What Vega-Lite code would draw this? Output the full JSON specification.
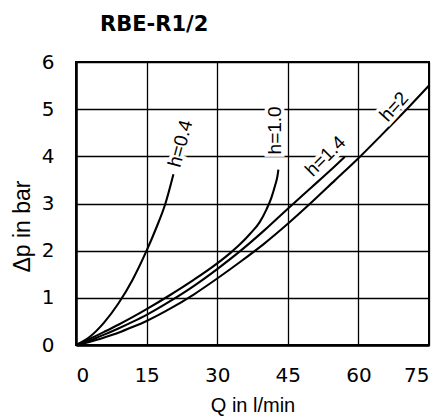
{
  "$schema": "https://vega.github.io/schema/vega-lite/v6.json",
  "width": 353,
  "height": 283,
  "autosize": {"type": "none"},
  "padding": {"left": 76, "top": 62, "right": 16, "bottom": 74},
  "background": "white",
  "title": {"text": "RBE-R1/2", "anchor": "start", "frame": "group", "dx": 24, "font": "DejaVu Sans", "fontSize": 21, "fontWeight": "bold", "color": "black", "baseline": "alphabetic", "offset": 0},
  "config": {
    "view": {"stroke": "black", "strokeWidth": 2},
    "axis": {
      "grid": true, "gridColor": "black", "gridWidth": 1.3, "gridOpacity": 1,
      "domain": true, "domainColor": "black", "domainWidth": 2.5,
      "ticks": false,
      "labelFont": "DejaVu Sans", "labelFontSize": 20, "labelColor": "black",
      "titleFont": "Liberation Sans", "titleFontWeight": "normal", "titleColor": "black"
    },
    "text": {"font": "Liberation Sans", "fontSize": 19, "align": "center", "baseline": "middle"}
  },
  "datasets": {
    "curves": [
      {"h": "0.4", "Q": 0, "p": 0}, {"h": "0.4", "Q": 3, "p": 0.18}, {"h": "0.4", "Q": 6, "p": 0.48}, {"h": "0.4", "Q": 9, "p": 0.88}, {"h": "0.4", "Q": 12, "p": 1.38}, {"h": "0.4", "Q": 15, "p": 2.0}, {"h": "0.4", "Q": 17, "p": 2.47}, {"h": "0.4", "Q": 19, "p": 3.0}, {"h": "0.4", "Q": 20.7, "p": 3.62},
      {"h": "1.0", "Q": 0, "p": 0}, {"h": "1.0", "Q": 3, "p": 0.135}, {"h": "1.0", "Q": 6, "p": 0.28}, {"h": "1.0", "Q": 9, "p": 0.43}, {"h": "1.0", "Q": 12, "p": 0.59}, {"h": "1.0", "Q": 15, "p": 0.76}, {"h": "1.0", "Q": 20, "p": 1.06}, {"h": "1.0", "Q": 25, "p": 1.38}, {"h": "1.0", "Q": 30, "p": 1.73}, {"h": "1.0", "Q": 33, "p": 1.97}, {"h": "1.0", "Q": 35, "p": 2.15}, {"h": "1.0", "Q": 37, "p": 2.36}, {"h": "1.0", "Q": 39, "p": 2.6}, {"h": "1.0", "Q": 40.5, "p": 2.88}, {"h": "1.0", "Q": 41.5, "p": 3.12}, {"h": "1.0", "Q": 42.3, "p": 3.38}, {"h": "1.0", "Q": 42.8, "p": 3.58}, {"h": "1.0", "Q": 43.0, "p": 3.72},
      {"h": "1.4", "Q": 0, "p": 0}, {"h": "1.4", "Q": 3, "p": 0.1}, {"h": "1.4", "Q": 6, "p": 0.22}, {"h": "1.4", "Q": 9, "p": 0.35}, {"h": "1.4", "Q": 12, "p": 0.49}, {"h": "1.4", "Q": 15, "p": 0.64}, {"h": "1.4", "Q": 20, "p": 0.93}, {"h": "1.4", "Q": 25, "p": 1.25}, {"h": "1.4", "Q": 30, "p": 1.61}, {"h": "1.4", "Q": 35, "p": 2.0}, {"h": "1.4", "Q": 40, "p": 2.43}, {"h": "1.4", "Q": 45, "p": 2.89}, {"h": "1.4", "Q": 50, "p": 3.34}, {"h": "1.4", "Q": 54, "p": 3.7}, {"h": "1.4", "Q": 57.1, "p": 3.99},
      {"h": "2", "Q": 0, "p": 0}, {"h": "2", "Q": 3, "p": 0.07}, {"h": "2", "Q": 6, "p": 0.16}, {"h": "2", "Q": 9, "p": 0.26}, {"h": "2", "Q": 12, "p": 0.38}, {"h": "2", "Q": 15, "p": 0.51}, {"h": "2", "Q": 20, "p": 0.77}, {"h": "2", "Q": 25, "p": 1.07}, {"h": "2", "Q": 30, "p": 1.41}, {"h": "2", "Q": 35, "p": 1.77}, {"h": "2", "Q": 40, "p": 2.15}, {"h": "2", "Q": 45, "p": 2.57}, {"h": "2", "Q": 50, "p": 3.02}, {"h": "2", "Q": 55, "p": 3.49}, {"h": "2", "Q": 60, "p": 3.96}, {"h": "2", "Q": 65, "p": 4.46}, {"h": "2", "Q": 70, "p": 4.97}, {"h": "2", "Q": 75, "p": 5.5}
    ],
    "labels": [
      {"label": "h=0.4", "Q": 22.2, "p": 4.27},
      {"label": "h=1.0", "Q": 42.2, "p": 4.55},
      {"label": "h=1.4", "Q": 53.0, "p": 4.0},
      {"label": "h=2", "Q": 67.6, "p": 5.05}
    ]
  },
  "encoding": {
    "x": {"field": "Q", "type": "quantitative", "scale": {"domain": [0, 75], "nice": false},
          "axis": {"values": [0, 15, 30, 45, 60, 75], "labelPadding": 20, "title": "Q in l/min", "titleFontSize": 20, "titlePadding": 10}},
    "y": {"field": "p", "type": "quantitative", "scale": {"domain": [0, 6], "nice": false},
          "axis": {"values": [0, 1, 2, 3, 4, 5, 6], "labelPadding": 22, "title": "Δp in bar", "titleFontSize": 23, "titleAngle": -90, "titleX": -47, "titleY": 164, "titleAlign": "center", "titleBaseline": "alphabetic"}}
  },
  "layer": [
    {
      "data": {"name": "curves"},
      "mark": {"type": "line", "color": "black", "strokeWidth": 2.1, "interpolate": "monotone"},
      "encoding": {"detail": {"field": "h", "type": "nominal"}}
    },
    {"data": {"name": "labels"}, "transform": [{"filter": "datum.label === 'h=0.4'"}], "mark": {"type": "text", "angle": 285, "fill": "white", "stroke": "white", "strokeWidth": 7}, "encoding": {"text": {"field": "label"}}},
    {"data": {"name": "labels"}, "transform": [{"filter": "datum.label === 'h=1.0'"}], "mark": {"type": "text", "angle": 270, "fill": "white", "stroke": "white", "strokeWidth": 7}, "encoding": {"text": {"field": "label"}}},
    {"data": {"name": "labels"}, "transform": [{"filter": "datum.label === 'h=1.4'"}], "mark": {"type": "text", "angle": 315, "fill": "white", "stroke": "white", "strokeWidth": 7}, "encoding": {"text": {"field": "label"}}},
    {"data": {"name": "labels"}, "transform": [{"filter": "datum.label === 'h=2'"}], "mark": {"type": "text", "angle": 312, "fill": "white", "stroke": "white", "strokeWidth": 7}, "encoding": {"text": {"field": "label"}}},
    {"data": {"name": "labels"}, "transform": [{"filter": "datum.label === 'h=0.4'"}], "mark": {"type": "text", "angle": 285, "fill": "black"}, "encoding": {"text": {"field": "label"}}},
    {"data": {"name": "labels"}, "transform": [{"filter": "datum.label === 'h=1.0'"}], "mark": {"type": "text", "angle": 270, "fill": "black"}, "encoding": {"text": {"field": "label"}}},
    {"data": {"name": "labels"}, "transform": [{"filter": "datum.label === 'h=1.4'"}], "mark": {"type": "text", "angle": 315, "fill": "black"}, "encoding": {"text": {"field": "label"}}},
    {"data": {"name": "labels"}, "transform": [{"filter": "datum.label === 'h=2'"}], "mark": {"type": "text", "angle": 312, "fill": "black"}, "encoding": {"text": {"field": "label"}}}
  ]
}
